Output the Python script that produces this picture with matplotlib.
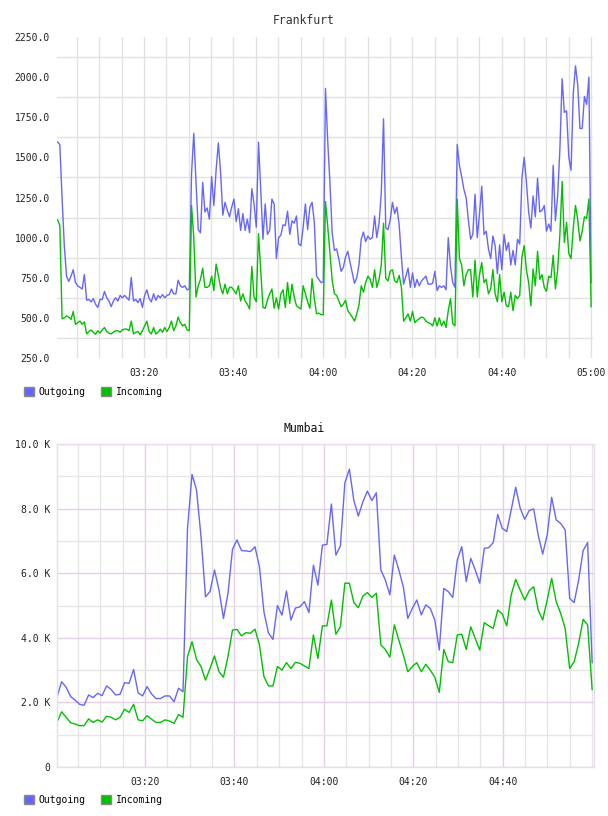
import matplotlib
matplotlib.use("Agg")
import matplotlib.pyplot as plt
import matplotlib.dates as mdates
import matplotlib.ticker as mticker
from matplotlib.patches import Patch
import numpy as np
import pandas as pd

plt.rcParams['font.family'] = ['DejaVu Sans Mono']

day = "2000-01-01 "

# Frankfurt, 30 s samples
fra_start = day + "03:00:40"
fra_end = day + "05:00:00"
fra_out = [
    1596, 1580, 1250, 950, 760, 727, 760, 800, 720, 700,
    690, 680, 770, 610, 615, 600, 620, 585, 565, 615,
    615, 665, 625, 605, 570, 605, 625, 605, 640, 625,
    640, 625, 610, 752, 605, 615, 595, 620, 565, 640,
    675, 620, 600, 650, 610, 640, 625, 645, 625, 640,
    645, 680, 650, 650, 735, 700, 690, 700, 675, 680,
    1400, 1650, 1355, 1050, 1030, 1345, 1160, 1185, 1115, 1380,
    1200, 1420, 1590, 1410, 1140, 1220, 1170, 1130, 1190, 1240,
    1100, 1180, 1045, 1150, 1045, 1115, 1030, 1305, 1210, 1065,
    1595, 1300, 990, 1210, 1020, 1045, 1240, 1210, 870, 1000,
    1015, 1080, 1075, 1165, 1020, 1105, 1090, 1135, 960, 950,
    1065, 1210, 1050, 1190, 1220, 1095, 760, 740, 720, 725,
    1930, 1600, 1340, 1030, 920, 930, 865, 790, 815, 880,
    915, 845, 780, 715, 750, 830, 990, 1035, 975, 1010,
    990, 1000, 1135, 1000, 1090, 1280, 1740, 1060, 1050, 1110,
    1220, 1150, 1190, 1080, 880, 710, 760, 810, 690, 780,
    690, 740, 700, 730, 745, 760, 710, 710, 715, 790,
    670, 700, 690, 700, 675, 1000, 820, 720, 690, 1580,
    1450, 1380, 1300, 1250, 1110, 990, 1020, 1270, 1000, 1150,
    1320, 1020, 1040, 930, 870, 1010, 950, 775, 955, 800,
    1020, 920, 970, 830, 920, 830, 990, 960, 1370, 1500,
    1350, 1160, 1060, 1260, 1130, 1370, 1160, 1170, 1200, 1040,
    1085, 1040, 1450, 1105, 1260, 1550, 1990, 1780, 1790, 1500,
    1420, 1900, 2070, 1950, 1680, 1680, 1880, 1830, 2000, 720,
]
fra_in = [
    1110, 1075, 495, 500, 512, 505, 490, 540, 460, 470,
    480, 460, 475, 400, 415, 425, 410, 398, 420, 405,
    425, 440, 415, 405, 400, 410, 420, 420, 410, 425,
    430, 430, 420, 480, 400, 410, 415, 395, 420, 450,
    480, 415, 400, 440, 400, 410, 430, 410, 440, 415,
    440, 480, 420, 450, 505, 470, 450, 460, 425, 420,
    1200, 1000, 630, 700, 740, 810, 690, 690, 700, 760,
    670, 835, 765, 690, 650, 710, 650, 690, 690, 670,
    650, 700, 605, 650, 605, 585, 555, 820, 630, 600,
    1025, 795, 565, 560, 610, 650, 680, 560, 625, 555,
    650, 675, 565, 720, 590, 710, 630, 575, 565, 555,
    700, 650, 600, 560, 745, 620, 525, 530, 520, 520,
    1225, 1070, 900, 735, 650, 640, 605, 570, 585, 610,
    545, 525, 505, 480, 525, 580, 700, 660, 720, 760,
    740, 690, 800, 690, 740, 830, 1090, 745, 730, 790,
    800, 730, 720, 765, 690, 480, 500, 525, 480, 540,
    470, 485, 495, 505, 500, 480, 470, 465, 450, 500,
    450, 500, 450, 480, 440, 545, 620, 465, 450, 1240,
    870, 830, 700, 770, 800, 800, 630, 860, 630, 770,
    845, 720, 740, 650, 680, 800, 650, 600, 770, 600,
    660, 575, 570, 660, 545, 640, 620, 640, 880, 950,
    800, 720, 575, 805, 700, 915, 740, 770, 690, 665,
    760, 750, 890, 680, 800, 1020, 1350, 970, 1095, 900,
    870, 1060, 1200, 1110, 980, 1040, 1130, 1120, 1240, 570,
]

# Mumbai, 1 min samples
mum_start = day + "03:00:20"
mum_end = day + "05:00:00"
mum_out = [
    2180, 2640, 2470, 2180, 2070, 1940, 1910, 2230, 2150, 2280,
    2210, 2510, 2400, 2230, 2250, 2610, 2590, 3020, 2300, 2200,
    2490, 2260, 2120, 2120, 2200, 2200, 2020, 2440, 2330,
    7390, 9060, 8580, 7130, 5270, 5430, 6100, 5480, 4600, 5380,
    6740, 7030, 6700, 6690, 6670, 6820, 6200, 4800, 4150, 3950,
    5000, 4700, 5450, 4550, 4920, 4960, 5120, 4780,
    6250, 5630, 6870, 6890, 8140, 6560, 6840, 8800, 9220, 8250,
    7770, 8210, 8540, 8250, 8490, 6100, 5790, 5330, 6560, 6100,
    5580, 4600, 4910, 5170, 4710, 5020, 4910, 4550, 3620, 5530,
    5430, 5250, 6410, 6820, 5740, 6460, 6100, 5690, 6770, 6790,
    6950, 7820, 7390, 7290, 7960, 8660, 8010, 7670, 7940, 7990,
    7180, 6590, 7180, 8350, 7650, 7540, 7340, 5220, 5090, 5790,
    6700, 6950, 3230,
]
mum_in = [
    1400, 1710, 1540, 1370, 1330, 1280, 1280, 1490, 1380, 1460,
    1390, 1570, 1540, 1460, 1540, 1790, 1690, 1940, 1460, 1430,
    1590, 1480, 1380, 1380, 1460, 1420, 1350, 1620, 1540,
    3420, 3880, 3330, 3110, 2690, 3050, 3440, 2950, 2780, 3420,
    4240, 4260, 4060, 4160, 4140, 4270, 3780, 2800, 2510, 2510,
    3110, 3000, 3230, 3050, 3240, 3210, 3130, 3050,
    4090, 3360, 4370, 4370, 5170, 4110, 4340, 5690, 5690, 5090,
    4930, 5290, 5400, 5250, 5380, 3780, 3640, 3400, 4400, 3930,
    3470, 2950, 3110, 3230, 2950, 3180, 3000, 2780, 2310, 3640,
    3260, 3230, 4090, 4110, 3640, 4340, 3980, 3620, 4470, 4370,
    4290, 4860, 4740, 4370, 5330, 5810, 5480, 5170, 5460, 5580,
    4860, 4550, 5170, 5840, 5120, 4760, 4290, 3050, 3260, 3830,
    4570, 4400, 2400,
]

blue = '#6666ff'
green = '#00c000'
W, H = 608, 816

fra_t = pd.date_range(fra_start, fra_end, periods=len(fra_out))
mum_t = pd.date_range(mum_start, mum_end, periods=len(mum_out))

fig = plt.figure(figsize=(W / 100, H / 100), dpi=100)
ax1 = fig.add_axes([57 / W, 1 - 358 / H, 536 / W, 321 / H])
ax2 = fig.add_axes([57 / W, 1 - 767 / H, 537 / W, 323 / H])

# --- Frankfurt ---
ax1.plot(fra_t, fra_out, color=blue, lw=1.0)
ax1.plot(fra_t, fra_in, color=green, lw=1.0)
ax1.set_xlim(pd.Timestamp(day + "03:00:32"), pd.Timestamp(day + "05:00:25"))
ax1.set_ylim(250, 2250)
ax1.set_yticks(np.arange(250, 2251, 250))
ax1.set_yticks(np.arange(375, 2250, 250), minor=True)
ax1.yaxis.set_major_formatter(mticker.FormatStrFormatter('%.1f'))
ax1.grid(which='minor', axis='y', color='#e2e2e2', lw=1.0)
ax1.grid(which='both', axis='x', color='#e2e2e2', lw=1.0)
for s in ax1.spines.values():
    s.set_visible(False)

# --- Mumbai ---
ax2.plot(mum_t, mum_out, color=blue, lw=1.0)
ax2.plot(mum_t, mum_in, color=green, lw=1.0)
ax2.set_xlim(pd.Timestamp(day + "03:00:18"), pd.Timestamp(day + "05:00:25"))
ax2.set_ylim(0, 10000)
ax2.set_yticks(np.arange(0, 10001, 2000))
ax2.set_yticks(np.arange(1000, 10000, 2000), minor=True)
ax2.yaxis.set_major_formatter(mticker.FuncFormatter(
    lambda v, p: "0" if v == 0 else "%.1f K" % (v / 1000)))
ax2.grid(which='major', color='#e3cfe6', lw=1.0)
ax2.grid(which='minor', color='#e6e6e6', lw=1.0)
for s in ax2.spines.values():
    s.set_color('#eadcef')
    s.set_linewidth(1.0)

for ax, last in ((ax1, 0), (ax2, 45)):
    ax.set_axisbelow(True)
    if last:
        ax.xaxis.set_major_locator(mdates.MinuteLocator(byminute=[0, 20, 40]))
        ax.set_xticks([t for t in ax.get_xticks()
                       if mdates.num2date(t).strftime('%H:%M') != '05:00'])
    else:
        ax.xaxis.set_major_locator(mdates.MinuteLocator(byminute=[0, 20, 40]))
    ax.xaxis.set_minor_locator(mdates.MinuteLocator(byminute=range(0, 60, 5)))
    ax.xaxis.set_major_formatter(mdates.DateFormatter('%H:%M'))
    ax.tick_params(which='both', length=0, labelsize=7, colors='#222222')
    ax.tick_params(axis='y', pad=5)
    ax.tick_params(axis='x', pad=7)

fig.text(0.5, 1 - 20 / H, "Frankfurt", ha='center', va='center',
         fontsize=8.3, color='#333333')
fig.text(0.5, 1 - 428 / H, "Mumbai", ha='center', va='center',
         fontsize=8.3, color='#111111')

handles = [Patch(facecolor=blue, edgecolor='#888888', label='Outgoing'),
           Patch(facecolor=green, edgecolor='#888888', label='Incoming')]
for yc in (392, 800):
    fig.legend(handles=handles, loc='center left',
               bbox_to_anchor=(24 / W, 1 - yc / H), ncol=2, frameon=False,
               fontsize=7, handlelength=1.0, handleheight=1.0,
               handletextpad=0.5, columnspacing=1.6, borderpad=0,
               borderaxespad=0)

fig.savefig("out.png", dpi=100)
